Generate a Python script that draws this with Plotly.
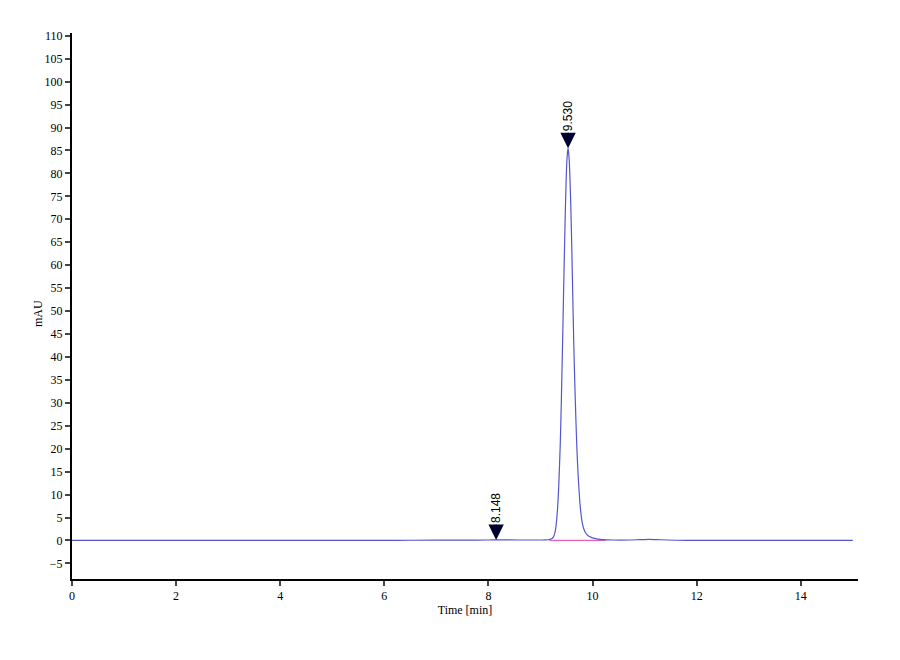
import plotly.graph_objects as go

# chromatogram trace (time in min, signal in mAU)
time_min = [0.0, 2.0, 4.0, 6.0, 6.5, 7.5, 8.0, 8.148, 8.6, 9.0, 9.1, 9.15, 9.2, 9.25,
            9.28, 9.3, 9.33, 9.35, 9.38, 9.4, 9.43, 9.45, 9.48, 9.5, 9.515, 9.53,
            9.545, 9.56, 9.58, 9.6, 9.62, 9.64, 9.66, 9.68, 9.7, 9.72, 9.74, 9.76,
            9.78, 9.8, 9.83, 9.86, 9.9, 9.95, 10.0, 10.1, 10.2, 10.4, 10.7, 10.9,
            11.1, 11.3, 11.6, 12.0, 13.0, 14.0, 15.0]
signal_mau = [0.0, 0.0, 0.0, 0.02, 0.05, 0.08, 0.1, 0.12, 0.1, 0.1, 0.11, 0.15, 0.3, 0.8,
              1.8, 3.3, 7.2, 11.6, 21.0, 30.0, 46.0, 57.5, 73.0, 81.0, 84.0, 85.5,
              84.0, 81.0, 74.0, 64.5, 53.5, 42.7, 34.0, 26.5, 20.0, 15.0, 11.0, 7.8,
              5.6, 4.0, 2.6, 1.8, 1.2, 0.8, 0.55, 0.3, 0.18, 0.1, 0.1, 0.18,
              0.25, 0.15, 0.05, 0.0, 0.0, 0.0, 0.0]

# integration baseline under the main peak
base_x = [9.17, 10.25]
base_y = [0.0, 0.0]

# peak labels
peak_rt = [8.148, 9.530]
peak_h = [0.12, 85.5]
peak_txt = ["8.148", "9.530"]

fig = go.Figure()
fig.add_trace(go.Scatter(x=base_x, y=base_y, mode="lines",
                         line=dict(color="#e060c8", width=1.2), hoverinfo="skip"))
fig.add_trace(go.Scatter(x=time_min, y=signal_mau, mode="lines",
                         line=dict(color="#5656cc", width=1.2, shape="spline", smoothing=0.5)))

for rt, h, t in zip(peak_rt, peak_h, peak_txt):
    fig.add_annotation(x=rt, y=h, text=t, textangle=-90, showarrow=True,
                       ax=0, ay=-32, arrowhead=2, arrowsize=2.2, arrowwidth=1.4,
                       arrowcolor="#000030", standoff=0,
                       font=dict(family="Liberation Sans", size=12, color="#000000"))

serif = "Liberation Serif"
# y axis title placed as a rotated annotation left of the tick labels
fig.add_annotation(xref="paper", yref="paper", x=-0.0433, y=0.487, text="mAU",
                   textangle=-90, showarrow=False, xanchor="center", yanchor="middle",
                   font=dict(family=serif, size=12, color="#000000"))

fig.update_layout(
    width=900, height=660, autosize=False,
    margin=dict(l=64, r=50, t=25, b=89),
    paper_bgcolor="white", plot_bgcolor="white",
    showlegend=False,
    font=dict(family=serif, size=12, color="#000000"),
    xaxis=dict(range=[0, 15.1], tick0=0, dtick=2, ticks="outside", ticklen=5,
               tickwidth=1.5, showgrid=False, zeroline=False, showline=True,
               linecolor="black", linewidth=2, tickfont=dict(family=serif, size=12),
               automargin=False,
               title=dict(text="Time [min]", font=dict(family=serif, size=12), standoff=0)),
    yaxis=dict(range=[-8.4, 110.6], tick0=0, dtick=5, ticks="outside", ticklen=5,
               tickwidth=1.5, showgrid=False, zeroline=False, showline=True,
               linecolor="black", linewidth=2, tickfont=dict(family=serif, size=12),
               automargin=False),
)

fig.write_html("out.html")
